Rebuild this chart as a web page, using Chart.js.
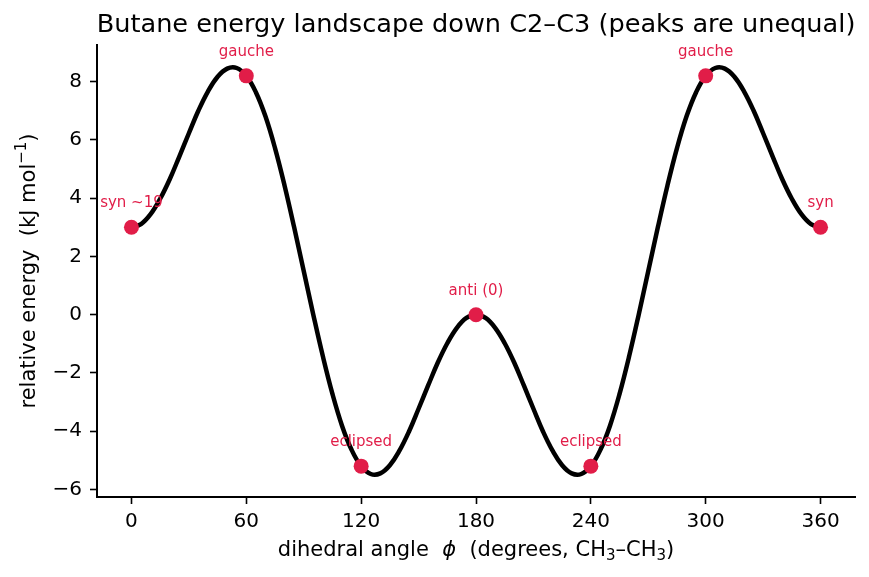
<!DOCTYPE html>
<html>
<head>
<meta charset="utf-8">
<script src="https://cdn.jsdelivr.net/npm/chart.js@4"></script>
<style>
  html, body { margin: 0; padding: 0; background: #fff; }
  #wrap { width: 869px; height: 577px; }
</style>
</head>
<body>
<div id="wrap"><canvas id="chart" width="869" height="577"></canvas></div>
<script>
// energy curve (degrees, kJ/mol)
const angles = [0, 5, 10, 15, 20, 25, 30, 35, 40, 45, 50, 55, 60, 65, 70, 75, 80, 85, 90,
    95, 100, 105, 110, 115, 120, 125, 130, 135, 140, 145, 150, 155, 160, 165, 170, 175, 180,
    185, 190, 195, 200, 205, 210, 215, 220, 225, 230, 235, 240, 245, 250, 255, 260, 265, 270,
    275, 280, 285, 290, 295, 300, 305, 310, 315, 320, 325, 330, 335, 340, 345, 350, 355, 360];
const energies = [3.00, 3.11, 3.45, 3.98, 4.65, 5.43, 6.23, 7.01, 7.67, 8.17, 8.45, 8.47, 8.20,
    7.64, 6.81, 5.72, 4.43, 3.00, 1.50, 0.00, -1.43, -2.72, -3.81, -4.64, -5.20, -5.47, -5.45,
    -5.17, -4.67, -4.01, -3.23, -2.43, -1.65, -0.98, -0.45, -0.11, 0.00,
    -0.11, -0.45, -0.98, -1.65, -2.43, -3.23, -4.01, -4.67, -5.17, -5.45, -5.47, -5.20,
    -4.64, -3.81, -2.72, -1.43, 0.00, 1.50, 3.00, 4.43, 5.72, 6.81, 7.64, 8.20,
    8.47, 8.45, 8.17, 7.67, 7.01, 6.23, 5.43, 4.65, 3.98, 3.45, 3.11, 3.00];

// labelled conformers
const markerAngles = [0, 60, 120, 180, 240, 300, 360];
const markerEnergies = [3.0, 8.2, -5.2, 0.0, -5.2, 8.2, 3.0];
const markerLabels = ['syn ~19', 'gauche', 'eclipsed', 'anti (0)', 'eclipsed', 'gauche', 'syn'];

// tick labels
const xTicks = [0, 60, 120, 180, 240, 300, 360];
const yTicks = [-6, -4, -2, 0, 2, 4, 6, 8];

const FONT = '"DejaVu Sans", sans-serif';
const ACCENT = '#e11d48';

const curve = angles.map((a, i) => ({ x: a, y: energies[i] }));
const points = markerAngles.map((a, i) => ({ x: a, y: markerEnergies[i] }));

// draws a label made of pieces (normal / sub / super / italic), centred on x
function richText(ctx, parts, x, y, size) {
    const fontOf = p => (p.italic ? 'italic ' : '') + Math.round(p.scale ? size * p.scale : size) + 'px ' + FONT;
    let total = 0;
    parts.forEach(p => { ctx.font = fontOf(p); total += ctx.measureText(p.t).width; });
    let cx = x - total / 2;
    ctx.textAlign = 'left';
    parts.forEach(p => {
        ctx.font = fontOf(p);
        ctx.fillText(p.t, cx, y + (p.dy || 0) * size);
        cx += ctx.measureText(p.t).width;
    });
}

const xLabel = [
    { t: 'dihedral angle  ' },
    { t: '\u03d5', italic: true },
    { t: '  (degrees, CH' },
    { t: '3', scale: 0.7, dy: 0.22 },
    { t: '\u2013CH' },
    { t: '3', scale: 0.7, dy: 0.22 },
    { t: ')' }
];
const yLabel = [
    { t: 'relative energy  (kJ mol' },
    { t: '\u22121', scale: 0.7, dy: -0.38 },
    { t: ')' }
];

// title, axis labels and point annotations
const textPlugin = {
    id: 'texts',
    afterDraw(chart) {
        const ctx = chart.ctx;
        const area = chart.chartArea;
        const cx = (area.left + area.right) / 2;
        ctx.save();
        ctx.fillStyle = '#000';
        ctx.textAlign = 'center';
        ctx.textBaseline = 'middle';

        ctx.font = '25.6px ' + FONT;
        ctx.fillText('Butane energy landscape down C2\u2013C3 (peaks are unequal)', cx, 25);

        richText(ctx, xLabel, cx, 551, 21);

        ctx.save();
        ctx.translate(30, (area.top + area.bottom) / 2);
        ctx.rotate(-Math.PI / 2);
        richText(ctx, yLabel, 0, 0, 21);
        ctx.restore();

        const meta = chart.getDatasetMeta(0);
        ctx.fillStyle = ACCENT;
        ctx.textAlign = 'center';
        ctx.font = '15px ' + FONT;
        meta.data.forEach((pt, i) => {
            ctx.fillText(markerLabels[i], pt.x, pt.y - 24);
        });
        ctx.restore();
    }
};

new Chart(document.querySelector('#chart').getContext('2d'), {
    type: 'line',
    data: {
        datasets: [
            {
                data: points,
                showLine: false,
                pointRadius: 7.5,
                pointBackgroundColor: ACCENT,
                pointBorderWidth: 0,
                order: 0
            },
            {
                data: curve,
                borderColor: '#000',
                borderWidth: 4.5,
                pointRadius: 0,
                tension: 0.4,
                fill: false,
                order: 1
            }
        ]
    },
    options: {
        responsive: false,
        animation: false,
        layout: { padding: { left: 0, right: 14, top: 45, bottom: 0 } },
        plugins: {
            legend: { display: false },
            tooltip: { enabled: false },
            title: { display: false }
        },
        scales: {
            x: {
                type: 'linear',
                min: -18,
                max: 378,
                afterBuildTicks: s => { s.ticks = xTicks.map(v => ({ value: v })); },
                afterFit: s => { s.height = 80; },
                grid: { drawOnChartArea: false, drawTicks: true, tickLength: 7, tickWidth: 1.6, tickColor: '#000' },
                border: { display: true, color: '#000', width: 2 },
                ticks: { color: '#000', padding: 6, maxRotation: 0, font: { family: FONT, size: 20 } }
            },
            y: {
                type: 'linear',
                min: -6.26,
                max: 9.26,
                afterBuildTicks: s => { s.ticks = yTicks.map(v => ({ value: v })); },
                afterFit: s => { s.width = 97; },
                grid: { drawOnChartArea: false, drawTicks: true, tickLength: 7, tickWidth: 1.6, tickColor: '#000' },
                border: { display: true, color: '#000', width: 2 },
                ticks: {
                    color: '#000',
                    padding: 8,
                    font: { family: FONT, size: 20 },
                    callback: v => v < 0 ? '\u2212' + Math.abs(v) : String(v)
                }
            }
        }
    },
    plugins: [textPlugin]
});
</script>
</body>
</html>
